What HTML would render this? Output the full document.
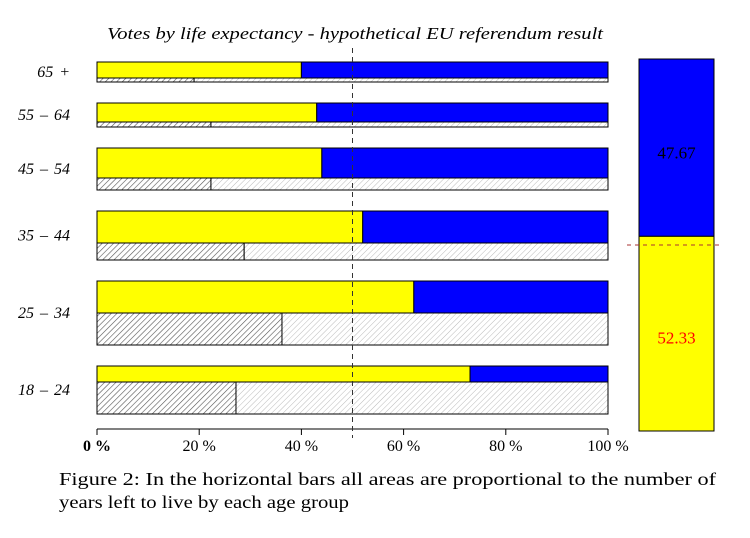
<!DOCTYPE html>
<html><head><meta charset="utf-8"><style>
body{margin:0;background:#fff;width:750px;height:538px;overflow:hidden}
svg{display:block}
</style></head><body>
<svg id="chart" width="750" height="538" xmlns="http://www.w3.org/2000/svg">
<defs>
<pattern id="hDark" patternUnits="userSpaceOnUse" width="4" height="4" patternTransform="rotate(45)">
<rect width="4" height="4" fill="#fff"/><line x1="0" y1="0" x2="0" y2="4" stroke="#555" stroke-width="1.2"/></pattern>
<pattern id="hLight" patternUnits="userSpaceOnUse" width="4" height="4" patternTransform="rotate(45)">
<rect width="4" height="4" fill="#fff"/><line x1="0" y1="0" x2="0" y2="4" stroke="#bbb" stroke-width="1"/></pattern>
</defs>
<text x="107" y="39" textLength="496" lengthAdjust="spacingAndGlyphs" font-family="Liberation Serif, serif" font-style="italic" font-size="17">Votes by life expectancy - hypothetical EU referendum result</text>
<g id="bars"></g>
<g id="axis"></g>
<g id="summary"></g>
<text font-family="Liberation Serif, serif" font-size="17.5">
<tspan x="59" y="485" textLength="657" lengthAdjust="spacingAndGlyphs">Figure 2:  In the horizontal bars all areas are proportional to the number of</tspan>
<tspan x="59" y="508" textLength="290" lengthAdjust="spacingAndGlyphs">years left to live by each age group</tspan></text>
</svg>
<script>
const groups=["65 +","55 – 64","45 – 54","35 – 44","25 – 34","18 – 24"];
const yesPct=[40,43,44,52,62,73];
const livedPct=[19,22.3,22.3,28.8,36.2,27.2];
const ticks=[0,20,40,60,80,100];
const totalYes=52.33, totalNo=47.67;
// row layout (pixels)
const rows=[[62,78,82],[103,122,127],[148,178,190],[211,243,260],[281,313,345],[366,382,414]];
const NS="http://www.w3.org/2000/svg";
const x0=97,x1=608;
const X=p=>x0+(x1-x0)*p/100;
function mk(t,a,parent){const e=document.createElementNS(NS,t);for(const k in a)e.setAttribute(k,a[k]);parent.appendChild(e);return e;}
const gb=document.getElementById('bars');
groups.forEach((g,i)=>{
 const [t,m,b]=rows[i];
 let r=mk('rect',{x:x0,y:t,width:X(yesPct[i])-x0,height:m-t,fill:'#ffff00',stroke:'#000'},gb);
 
 
 r=mk('rect',{x:X(yesPct[i]),y:t,width:x1-X(yesPct[i]),height:m-t,fill:'#0000ff',stroke:'#000'},gb);
 
 
 r=mk('rect',{x:x0,y:m,width:X(livedPct[i])-x0,height:b-m,fill:'url(#hDark)',stroke:'#000'},gb);
 
 
 r=mk('rect',{x:X(livedPct[i]),y:m,width:x1-X(livedPct[i]),height:b-m,fill:'url(#hLight)',stroke:'#000'},gb);
 
 
 const tx=mk('text',{x:70,y:(t+b)/2+5,'text-anchor':'end','font-family':'Liberation Serif, serif','font-style':'italic','font-size':'16','word-spacing':'2'},gb);
 tx.textContent=g;
 
 
});
const ga=document.getElementById('axis');
mk('line',{x1:x0,y1:429,x2:x1,y2:429,stroke:'#000'},ga);
ticks.forEach(v=>{
 mk('line',{x1:X(v),y1:429,x2:X(v),y2:435,stroke:'#000'},ga);
 const t=mk('text',{x:X(v),y:451,'text-anchor':'middle','font-family':'Liberation Serif, serif','font-size':'16','font-weight':v==0?'bold':'normal'},ga);
 t.textContent=v+' %';
 
 
});
mk('line',{x1:X(50),y1:48,x2:X(50),y2:438,stroke:'#333','stroke-dasharray':'5,4'},ga);
const gs=document.getElementById('summary');
const pTop=59,pBot=431,sx=639,sw=75;
const Y=p=>pTop+(pBot-pTop)*p/100;
let r=mk('rect',{x:sx,y:pTop,width:sw,height:Y(totalNo)-pTop,fill:'#0000ff',stroke:'#000'},gs);


r=mk('rect',{x:sx,y:Y(totalNo),width:sw,height:pBot-Y(totalNo),fill:'#ffff00',stroke:'#000'},gs);


mk('line',{x1:627,y1:Y(50),x2:720,y2:Y(50),stroke:'#a33','stroke-dasharray':'4,4'},gs);
let t=mk('text',{x:sx+sw/2,y:(pTop+Y(totalNo))/2+11,'text-anchor':'middle','font-family':'Liberation Serif, serif','font-size':'17'},gs);
t.textContent=totalNo.toFixed(2);


t=mk('text',{x:sx+sw/2,y:(Y(totalNo)+pBot)/2+10,'text-anchor':'middle','font-family':'Liberation Serif, serif','font-size':'17',fill:'#ff0000'},gs);
t.textContent=totalYes.toFixed(2);


</script>
</body></html>
